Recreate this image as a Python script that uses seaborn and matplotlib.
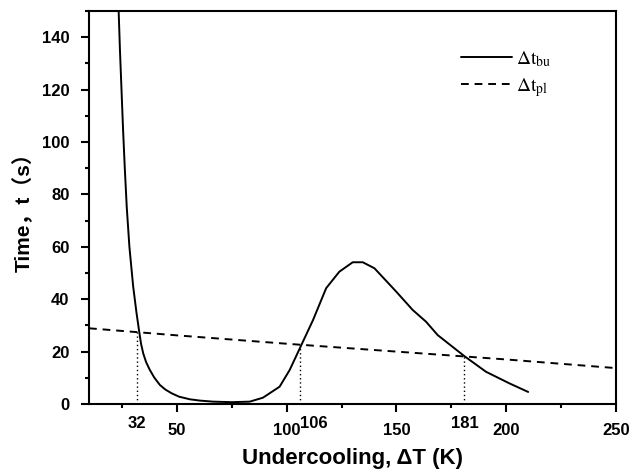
import numpy as np
import matplotlib
matplotlib.use("Agg")
import matplotlib.pyplot as plt
import seaborn as sns
from matplotlib.ticker import MultipleLocator

# Delta t_bu curve (solid)
bu_x = [23.5, 24.1, 24.8, 25.5, 26.3, 27.2, 28.4, 30.1, 31.6, 32.8, 33.7, 34.7, 36.0,
        37.7, 39.8, 42.3, 44.8, 47.6, 51.0, 55.9, 60.5, 66.5, 75.0, 83.2,
        89.2, 96.8, 101.4, 106.7, 112.0, 118.0, 124.0, 130.1, 134.7, 140.0, 149.9, 157.4, 163.5,
        168.8, 180.9, 190.8, 201.4, 210.0]
bu_y = [150.0, 135.0, 120.0, 105.0, 90.0, 75.0, 60.0, 45.0, 35.0, 28.0, 23.0, 19.3, 16.0,
        13.0, 10.0, 7.25, 5.5, 4.1, 2.8, 1.8, 1.3, 0.9, 0.7, 0.9,
        2.4, 6.6, 13.0, 22.5, 32.0, 44.2, 50.5, 54.1, 54.1, 51.8, 42.9, 35.9, 31.4,
        26.3, 18.3, 12.3, 7.9, 4.6]

# Delta t_pl curve (dashed)
pl_x = [10, 50, 100, 150, 200, 250]
pl_y = [28.9, 26.2, 23.0, 20.0, 17.0, 13.7]

# crossing points
cross_x = [32, 106, 181]
cross_y = [27.6, 22.6, 18.2]

major_x = [50, 100, 150, 200, 250]

sns.set_style("ticks", {'text.color': 'black', 'axes.labelcolor': 'black',
                        'xtick.color': 'black', 'ytick.color': 'black',
                        'axes.edgecolor': 'black'})
plt.rcParams['font.family'] = ['Liberation Sans', 'Noto Sans CJK SC', 'DejaVu Sans']
plt.rcParams['mathtext.fontset'] = 'stix'

fig = plt.figure(figsize=(6.33, 4.73), dpi=100)
ax = fig.add_axes([89/633, 1 - 404/473, 527/633, 393/473])

sns.lineplot(x=bu_x, y=bu_y, ax=ax, color='black', lw=1.4, sort=False,
             label=r'$\Delta\mathrm{t}_{\mathrm{bu}}$')
sns.lineplot(x=pl_x, y=pl_y, ax=ax, color='black', lw=1.4, linestyle=(0, (4, 3)),
             label=r'$\Delta\mathrm{t}_{\mathrm{pl}}$')

for cx, cy in zip(cross_x, cross_y):
    ax.plot([cx, cx], [0, cy], color='black', lw=1.0, linestyle=(0, (1, 2)))

ax.set_xlim(10, 250)
ax.set_ylim(0, 150)
ax.set_xticks(major_x)
ax.xaxis.set_minor_locator(MultipleLocator(25))
ax.yaxis.set_major_locator(MultipleLocator(20))
ax.yaxis.set_minor_locator(MultipleLocator(10))

ax.tick_params(which='major', direction='out', length=6, width=1.5, labelsize=12, pad=8,
               colors='black')
ax.tick_params(which='minor', direction='out', length=3, width=1.5, colors='black')
for lab in ax.get_xticklabels() + ax.get_yticklabels():
    lab.set_fontweight('bold')

for sp in ax.spines.values():
    sp.set_linewidth(1.5)
    sp.set_color('black')

# extra labels at the crossing points, raised a little; 106 sits right of its line
for cx in cross_x:
    ha = 'left' if cx == 106 else 'center'
    ax.text(cx, -0.05, str(cx), transform=ax.get_xaxis_transform(),
            ha=ha, va='center', fontsize=12, fontweight='bold', color='black')

ax.set_xlabel('Undercooling, ΔT (K)', fontsize=16, fontweight='bold', labelpad=7)
ax.set_ylabel('Time，t（s）', fontsize=15, fontweight='bold', labelpad=6)

leg = ax.legend(loc='center left', bbox_to_anchor=(0.688, 0.84), frameon=False,
                handlelength=2.6, fontsize=14, labelspacing=0.35, borderpad=0,
                handletextpad=0.2)

fig.savefig('out.png', dpi=100)
